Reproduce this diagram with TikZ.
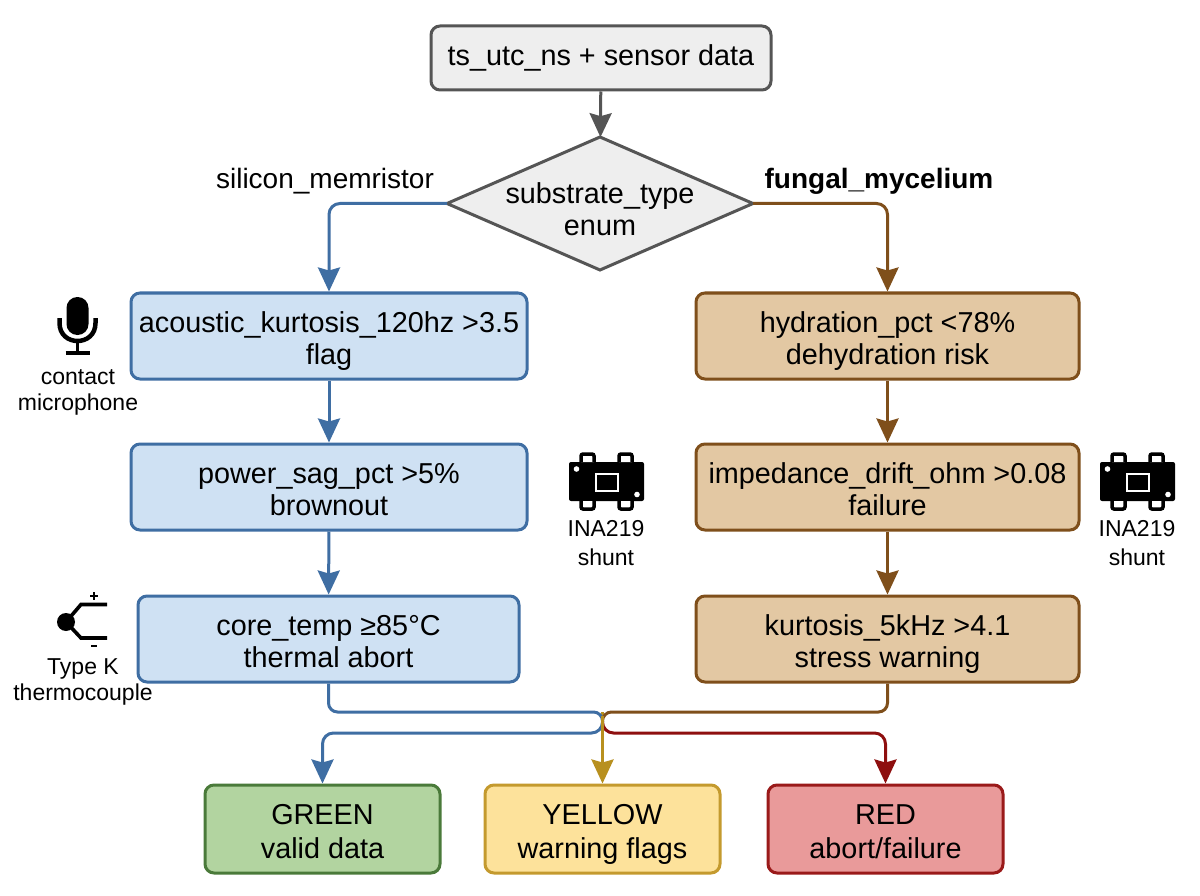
\documentclass[tikz,border=0pt]{standalone}
\usepackage{fontspec}
\setmainfont{Liberation Sans}
\usetikzlibrary{shapes.geometric,arrows.meta,calc}
\definecolor{bluE}{HTML}{3F6EA3}
\definecolor{bluF}{HTML}{CFE1F3}
\definecolor{broE}{HTML}{7F4F1B}
\definecolor{broF}{HTML}{E3C8A3}
\definecolor{greE}{HTML}{4A7A3A}
\definecolor{greF}{HTML}{B2D4A0}
\definecolor{yelE}{HTML}{C49A2E}
\definecolor{yelF}{HTML}{FDE29B}
\definecolor{redE}{HTML}{9A1A1A}
\definecolor{redF}{HTML}{E99A9A}
\definecolor{gryE}{HTML}{555555}
\definecolor{gryF}{HTML}{EEEEEE}
\definecolor{arrY}{HTML}{B8901F}
\definecolor{arrR}{HTML}{8E0F0F}
\newcommand{\twol}[2]{\rule{0pt}{24pt}#1\\\raisebox{0pt}[0pt][0pt]{#2}}
\tikzset{
  x=1pt,y=-1pt,
  boxs/.style={draw,line width=3pt,rounded corners=9pt,align=center,inner sep=0pt,
    font=\fontsize{28.8}{32}\selectfont},
  bluebox/.style={boxs,draw=bluE,fill=bluF,minimum width=396pt,minimum height=86pt},
  brownbox/.style={boxs,draw=broE,fill=broF,minimum width=383pt,minimum height=86pt},
  endbox/.style={boxs,minimum width=235pt,minimum height=88pt,font=\fontsize{28.8}{34}\selectfont},
  conn/.style={line width=3pt,rounded corners=11pt,-{Stealth[length=24pt,width=22pt,inset=3pt]}},
  plainconn/.style={line width=3pt,rounded corners=9pt},
  sidelabel/.style={align=center,font=\fontsize{23}{26}\selectfont,inner sep=0pt},
  branch/.style={inner sep=0pt,font=\fontsize{28}{30}\selectfont},
}
\begin{document}
\begin{tikzpicture}
\useasboundingbox (0,0) rectangle (1200,896);
\fill[white] (0,0) rectangle (1200,896);
% nodes
\node[boxs,draw=gryE,fill=gryF,minimum width=340pt,minimum height=64pt] (top) at (601,58) {\raisebox{-2pt}{ts\_utc\_ns + sensor data}};
\node[diamond,draw=gryE,fill=gryF,line width=3pt,aspect=2.3,minimum width=306pt,minimum height=133pt,inner sep=0pt,outer sep=0pt] (dec) at (600,203.5) {};
\node[inner sep=0pt,align=center,font=\fontsize{28.8}{32}\selectfont] (dectext) at (600,208) {\twol{substrate\_type}{enum}};
\node[bluebox] (a1) at (329,336) {\twol{acoustic\_kurtosis\_120hz >3.5}{flag}};
\node[bluebox] (a2) at (329,487) {\twol{power\_sag\_pct >5\%}{brownout}};
\node[bluebox,minimum width=381pt] (a3) at (328.5,639) {\twol{core\_temp ≥85°C}{thermal abort}};
\node[brownbox] (b1) at (887.5,336) {\twol{hydration\_pct <78\%}{dehydration risk}};
\node[brownbox] (b2) at (887.5,487) {\twol{impedance\_drift\_ohm >0.08}{failure}};
\node[brownbox] (b3) at (887.5,639) {\twol{kurtosis\_5kHz >4.1}{stress warning}};
\node[endbox,draw=greE,fill=greF] (g) at (322.5,829) {\twol{GREEN}{valid data}};
\node[endbox,draw=yelE,fill=yelF] (y) at (602.5,829) {\twol{YELLOW}{warning flags}};
\node[endbox,draw=redE,fill=redF] (r) at (885.5,829) {\twol{RED}{abort/failure}};
\node[branch] (ls) at (325,181) {silicon\_memristor};
\node[branch,font=\fontsize{28}{30}\selectfont\bfseries] (rs) at (879,181) {fungal\_mycelium};
\node[sidelabel] (mic) at (78,392) {contact\\microphone};
\node[sidelabel,font=\fontsize{23}{29.5}\selectfont] (ina1) at (606,543) {INA219\\shunt};
\node[sidelabel,font=\fontsize{23}{29.5}\selectfont] (ina2) at (1137,543) {INA219\\shunt};
\node[sidelabel] (tc) at (83,682) {Type K\\thermocouple};
% connectors
\coordinate (m) at (602.5,722);
\draw[conn,draw=gryE,gryE] (top) -- (dec);
\draw[conn,draw=bluE,bluE] (dec.west) -| (a1.north);
\draw[conn,draw=broE,broE] (dec.east) -| (b1.north);
\draw[conn,draw=bluE,bluE] (a1) -- (a2);
\draw[conn,draw=bluE,bluE] (a2) -- (a3);
\draw[conn,draw=broE,broE] (b1) -- (b2);
\draw[conn,draw=broE,broE] (b2) -- (b3);
\draw[conn,draw=arrY,arrY] (m |- 0,712) -- (y.north);
\draw[plainconn,draw=bluE] (a3.south) -- (a3.south |- 0,712) -- (m |- 0,712) -- (m) ;
\draw[plainconn,draw=broE] (b3.south) -- (b3.south |- 0,712) -- (m |- 0,712) -- (m);
\draw[conn,draw=bluE,bluE] (m) -- (m |- 0,733) -- (g.north |- 0,733) -- (g.north);
\draw[conn,draw=arrR,arrR] (m) -- (m |- 0,733) -- (r.north |- 0,733) -- (r.north);
\draw[line width=3pt,arrY] (m |- 0,716) -- (m |- 0,760);
% microphone icon
\begin{scope}[shift={(77.5,0)}]
  \fill[black,rounded corners=10.9pt] (-11,297) rectangle (11,335);
  \draw[black,line width=4.5pt] (-18,318) -- (-18,323) .. controls (-18,347) and (18,347) .. (18,323) -- (18,318);
  \draw[black,line width=3.5pt] (0,342) -- (0,352);
  \draw[black,line width=3.5pt] (-12,353) -- (12,353);
\end{scope}
% INA219 icons
\foreach \ox in {569,1100}{
\begin{scope}[shift={(\ox,0)}]
  \fill[black,rounded corners=2pt] (0,462) rectangle (75,501);
  \draw[black,line width=3.5pt,rounded corners=2pt,fill=white] (12,462) -- (12,454) -- (25,454) -- (25,462);
  \draw[black,line width=3.5pt,rounded corners=2pt,fill=white] (50,462) -- (50,454) -- (63,454) -- (63,462);
  \draw[black,line width=3.5pt,rounded corners=2pt,fill=white] (12,501) -- (12,509) -- (25,509) -- (25,501);
  \draw[black,line width=3.5pt,rounded corners=2pt,fill=white] (50,501) -- (50,509) -- (63,509) -- (63,501);
  \draw[white,line width=2.5pt] (27,474) rectangle (49,491);
  \fill[white] (7.5,469) circle[radius=2.8];
  \fill[white] (68,494.5) circle[radius=2.8];
\end{scope}}
% thermocouple icon
\fill[black] (66,622) circle[radius=9];
\draw[black,line width=3.6pt] (66,622) -- (81,604.5) -- (107,604.5);
\draw[black,line width=3.6pt] (66,622) -- (81,638) -- (107,638);
\draw[black,line width=1.6pt] (90,596) -- (98,596) (94,592) -- (94,600);
\draw[black,line width=1.6pt] (91,646) -- (97,646);
\end{tikzpicture}
\end{document}
